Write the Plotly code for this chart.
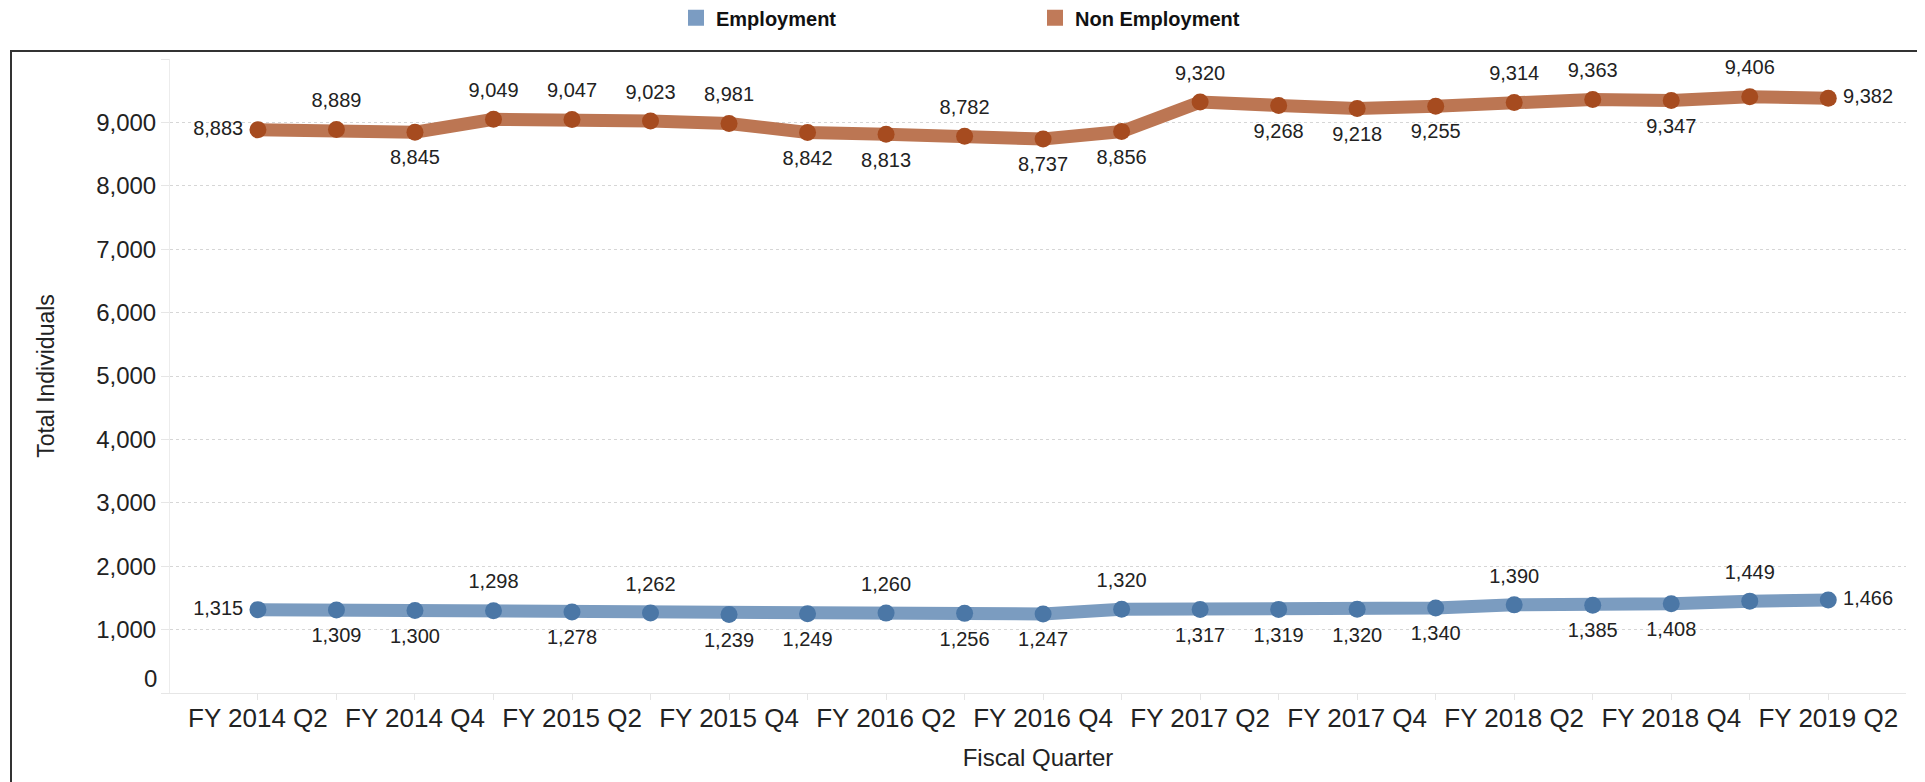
import plotly.graph_objects as go

quarters = [
    "FY 2014 Q2", "FY 2014 Q3", "FY 2014 Q4",
    "FY 2015 Q1", "FY 2015 Q2", "FY 2015 Q3", "FY 2015 Q4",
    "FY 2016 Q1", "FY 2016 Q2", "FY 2016 Q3", "FY 2016 Q4",
    "FY 2017 Q1", "FY 2017 Q2", "FY 2017 Q3", "FY 2017 Q4",
    "FY 2018 Q1", "FY 2018 Q2", "FY 2018 Q3", "FY 2018 Q4",
    "FY 2019 Q1", "FY 2019 Q2",
]
employment = [1315, 1309, 1300, 1298, 1278, 1262, 1239, 1249, 1260, 1256, 1247,
              1320, 1317, 1319, 1320, 1340, 1390, 1385, 1408, 1449, 1466]
non_employment = [8883, 8889, 8845, 9049, 9047, 9023, 8981, 8842, 8813, 8782, 8737,
                  8856, 9320, 9268, 9218, 9255, 9314, 9363, 9347, 9406, 9382]
emp_label_pos = ["middle left", "bottom center", "bottom center", "top center", "bottom center",
                 "top center", "bottom center", "bottom center", "top center", "bottom center",
                 "bottom center", "top center", "bottom center", "bottom center", "bottom center",
                 "bottom center", "top center", "bottom center", "bottom center", "top center",
                 "middle right"]
non_label_pos = ["middle left", "top center", "bottom center", "top center", "top center",
                 "top center", "top center", "bottom center", "bottom center", "top center",
                 "bottom center", "bottom center", "top center", "bottom center", "bottom center",
                 "bottom center", "top center", "top center", "bottom center", "top center",
                 "middle right"]
y_ticks = [0, 1000, 2000, 3000, 4000, 5000, 6000, 7000, 8000, 9000, 10000]
y_tick_text = ["", "1,000", "2,000", "3,000", "4,000", "5,000", "6,000", "7,000", "8,000", "9,000", ""]
x_tick_text = [q if i % 2 == 0 else "" for i, q in enumerate(quarters)]

FONT = "Arial, 'Liberation Sans', sans-serif"
EMP_LINE, EMP_MARK, EMP_LEG = "#7b9cc0", "#4b77a6", "#7b9cc2"
NON_LINE, NON_MARK, NON_LEG = "#bc7653", "#a64b1f", "#c07a59"

fig = go.Figure()
for name, vals, lc, mc in [("Non Employment", non_employment, NON_LINE, NON_MARK),
                           ("Employment", employment, EMP_LINE, EMP_MARK)]:
    fig.add_trace(go.Scatter(
        x=quarters, y=vals, mode="lines+markers", name=name,
        line=dict(color=lc, width=13), marker=dict(color=mc, size=17, line=dict(width=0)),
        showlegend=False, cliponaxis=False))

# value labels (transparent larger marker gives the label padding)
for vals, pos in [(non_employment, non_label_pos), (employment, emp_label_pos)]:
    fig.add_trace(go.Scatter(
        x=quarters, y=vals, mode="markers+text",
        marker=dict(color="rgba(0,0,0,0)", line=dict(width=0, color="rgba(0,0,0,0)"),
                    size=[22 if p.startswith("middle") else 26 for p in pos]),
        text=[f"{v:,}" for v in vals], textposition=pos,
        textfont=dict(size=20, color="#222", family=FONT),
        showlegend=False, hoverinfo="skip", cliponaxis=False))

# legend entries (square swatches)
fig.add_trace(go.Scatter(x=[None], y=[None], mode="markers", name="Employment",
                         marker=dict(symbol="square", color=EMP_LEG, size=22), legend="legend"))
fig.add_trace(go.Scatter(x=[None], y=[None], mode="markers", name="Non Employment",
                         marker=dict(symbol="square", color=NON_LEG, size=22), legend="legend2"))

legend_common = dict(orientation="h", yanchor="middle", y=1.065, xanchor="left",
                     font=dict(size=20, color="#111", family=FONT, weight="bold"),
                     bgcolor="rgba(0,0,0,0)", itemclick=False)

# page body has an 8px margin; plot area targeted at x 170-1906, y 59-693 in the window
fig.update_layout(
    width=1917, height=774,
    margin=dict(l=162, r=19, t=51, b=89, autoexpand=False),
    paper_bgcolor="white", plot_bgcolor="white",
    font=dict(family=FONT, color="#222"),
    legend=dict(x=(676 - 170) / 1736, **legend_common),
    legend2=dict(x=(1035 - 170) / 1736, **legend_common),
    xaxis=dict(
        type="category", range=[-1.12, 20.99],
        tickmode="array", tickvals=quarters, ticktext=x_tick_text,
        tickangle=0,
        ticks="outside", ticklen=6, tickcolor="#e6e6e6",
        ticklabelstandoff=-4,
        tickfont=dict(size=26, color="#222"),
        showgrid=False, showline=True, linecolor="#e6e6e6", linewidth=1,
        title=dict(text="Fiscal Quarter", font=dict(size=24, color="#222"), standoff=16),
    ),
    yaxis=dict(
        range=[0, 10000], tickmode="array", tickvals=y_ticks, ticktext=y_tick_text,
        ticks="outside", ticklen=8, tickcolor="#e6e6e6",
        tickfont=dict(size=24, color="#222"),
        showgrid=True, gridcolor="#d6d6d6", griddash="dot", gridwidth=1,
        zeroline=False, showline=True, linecolor="#ececec", linewidth=1,
        title=dict(text="Total Individuals", font=dict(size=23, color="#222"), standoff=35),
    ),
    annotations=[dict(text="0", xref="paper", yref="y", x=0, y=0, xanchor="right",
                      yanchor="middle", xshift=-11, yshift=15, showarrow=False,
                      font=dict(size=24, color="#222", family=FONT))],
    shapes=[dict(type="rect", xref="paper", yref="paper",
                 x0=(11 - 170) / 1736, x1=(1920 - 170) / 1736,
                 y0=-0.2, y1=(693 - 51) / 634,
                 line=dict(color="#333333", width=2), fillcolor="rgba(0,0,0,0)", layer="above")],
)

fig.write_html("out.html")
